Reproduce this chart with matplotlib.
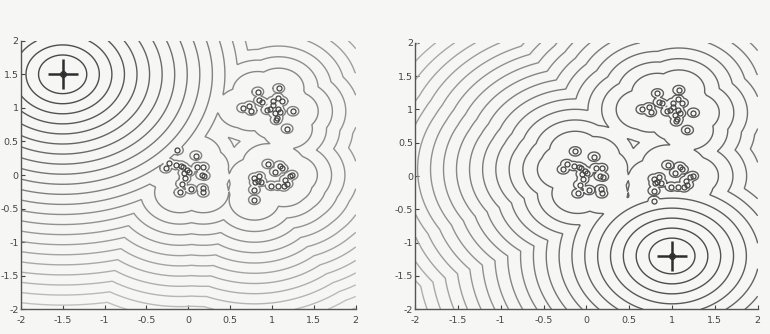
import numpy as np
import matplotlib.pyplot as plt
from matplotlib.colors import LinearSegmentedColormap

# sample points (same three clusters in both panels)
pts_x = [-0.13, 0.09, -0.23, -0.27, -0.15, -0.09, -0.06, -0.02, -0.05, 0.01,
         0.11, 0.18, 0.16, 0.19, -0.04, -0.08, 0.03, 0.17, 0.18, -0.10,
         0.83, 1.08, 0.85, 0.65, 0.73, 0.75, 0.94, 0.98, 1.01, 1.07,
         1.12, 1.01, 1.07, 1.09, 1.03, 1.06, 1.05, 1.25, 1.18, 0.88,
         0.95, 1.09, 1.04, 1.12, 1.21, 1.24, 1.16, 1.18, 1.14, 1.07,
         0.99, 0.85, 0.79, 0.83, 0.87, 0.80, 0.79, 0.79]
pts_y = [0.37, 0.29, 0.18, 0.10, 0.15, 0.14, 0.12, 0.08, 0.03, 0.05,
         0.12, 0.12, 0.00, -0.01, -0.05, -0.13, -0.21, -0.20, -0.26, -0.26,
         1.24, 1.29, 1.11, 1.00, 1.03, 0.96, 0.97, 0.99, 1.10, 1.15,
         1.10, 1.04, 0.99, 0.94, 0.92, 0.85, 0.82, 0.95, 0.69, 1.09,
         0.165, 0.14, 0.05, 0.10, -0.02, 0.00, -0.07, -0.13, -0.17, -0.16,
         -0.16, -0.02, -0.04, -0.09, -0.10, -0.11, -0.22, -0.37]

# the marked (crosshair) point of each panel
marks = [(-1.5, 1.5), (1.0, -1.2)]

ticks = [-2, -1.5, -1, -0.5, 0, 0.5, 1, 1.5, 2]
tick_labels = ['-2', '-1.5', '-1', '-0.5', '0', '0.5', '1', '1.5', '2']

px = np.array(pts_x)
py = np.array(pts_y)

gx, gy = np.meshgrid(np.linspace(-2, 2, 401), np.linspace(-2, 2, 401))
d_pts = np.min(np.hypot(gx[..., None] - px, gy[..., None] - py), axis=-1)


def soft(d, a=0.2):
    # flat near the samples, slope 1 far away
    return np.sqrt(d ** 2 + a ** 2) - a


grey = LinearSegmentedColormap.from_list('g', ['#454545', '#c6c6c6'])

fig = plt.figure(figsize=(7.7, 3.34), dpi=100, facecolor='#f6f6f4')
boxes = [[0.027, 0.074, 0.435, 0.804], [0.539, 0.074, 0.445, 0.798]]

for box, (sx, sy) in zip(boxes, marks):
    ax = fig.add_axes(box)
    ax.set_facecolor('#f6f6f4')
    d_s = np.hypot(gx - sx, gy - sy)
    d0 = np.min(np.hypot(px - sx, py - sy))
    F = np.minimum(d_s, d0 + soft(d_pts))
    lv = d0 + soft(0.07) + 0.15 * np.arange(-30, 30)
    lv = lv[(lv > 0.25) & (lv < F.max())]
    ax.contour(gx, gy, F, levels=lv, cmap=grey, vmin=0.2, vmax=3.6,
               linewidths=1.0)
    ax.plot(px, py, 'o', ms=3.6, mfc='none', mec='#444444', mew=0.9)
    ax.plot(sx, sy, '+', ms=21, mew=1.8, color='#2e2e2e')
    ax.plot(sx, sy, 'o', ms=4, mfc='none', mec='#2e2e2e', mew=1.0)

    ax.set_xlim(-2, 2)
    ax.set_ylim(-2, 2)
    ax.set_xticks(ticks)
    ax.set_xticklabels(tick_labels)
    ax.set_yticks(ticks)
    ax.set_yticklabels(tick_labels)
    ax.tick_params(direction='in', length=3, width=0.8, labelsize=6.8,
                   colors='#444444')
    ax.tick_params(axis='x', pad=4.5)
    ax.tick_params(axis='y', pad=1.5)
    for side in ['top', 'right']:
        ax.spines[side].set_visible(False)
    for side in ['left', 'bottom']:
        ax.spines[side].set_color('#555555')
        ax.spines[side].set_linewidth(1.0)

fig.savefig('out.png', dpi=100, facecolor=fig.get_facecolor())
